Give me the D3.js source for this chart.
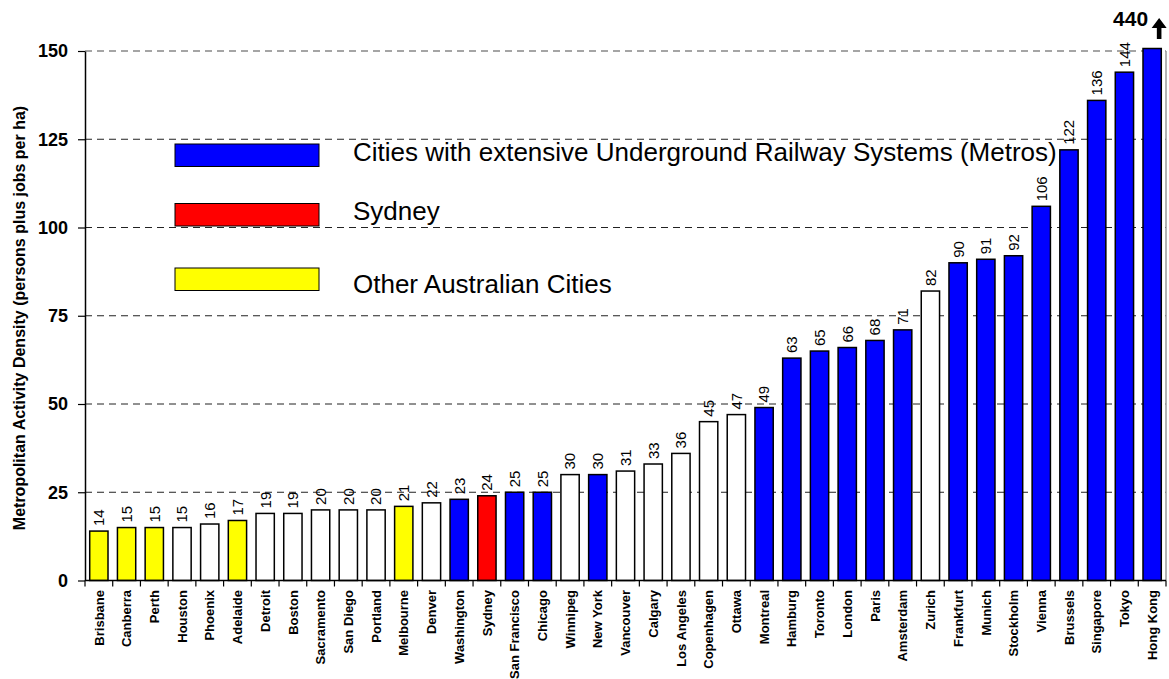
<!DOCTYPE html>
<html>
<head>
<meta charset="utf-8">
<script src="https://cdn.jsdelivr.net/npm/d3@7/dist/d3.min.js"></script>
<style>
  html, body { margin: 0; padding: 0; background: #fff; }
  svg { display: block; font-family: Arial, "Liberation Sans", sans-serif; }
</style>
</head>
<body>
<svg id="chart" width="1169" height="679"></svg>
<script>
// Metropolitan activity density by city (persons plus jobs per hectare)
const cities = ["Brisbane","Canberra","Perth","Houston","Phoenix","Adelaide","Detroit","Boston",
  "Sacramento","San Diego","Portland","Melbourne","Denver","Washington","Sydney","San Francisco",
  "Chicago","Winnipeg","New York","Vancouver","Calgary","Los Angeles","Copenhagen","Ottawa",
  "Montreal","Hamburg","Toronto","London","Paris","Amsterdam","Zurich","Frankfurt","Munich",
  "Stockholm","Vienna","Brussels","Singapore","Tokyo","Hong Kong"];
const density = [14,15,15,15,16,17,19,19,20,20,20,21,22,23,24,25,25,30,30,31,33,36,45,47,
  49,63,65,66,68,71,82,90,91,92,106,122,136,144,440];
// m = metro city, s = Sydney, a = other Australian city, o = other
const group = ["a","a","a","o","o","a","o","o","o","o","o","a","o","m","s","m",
  "m","o","m","o","o","o","o","o","m","m","m","m","m","m","o","m","m",
  "m","m","m","m","m","m"];
const yTicks = [0,25,50,75,100,125,150];
const legendKeys = ["m","s","a"];
const legendLabels = ["Cities with extensive Underground Railway Systems (Metros)","Sydney","Other Australian Cities"];
const groupColor = {m:"#0000ff", s:"#ff0000", a:"#ffff00", o:"#ffffff"};

const svg = d3.select("#chart");
const plotLeft = 85, plotRight = 1166, plotTop = 51, plotBottom = 580.5;

const x = d3.scaleBand().domain(cities).range([plotLeft, plotRight]).paddingInner(0.34).paddingOuter(0.17);
const y = d3.scaleLinear().domain([0, 150]).range([plotBottom, plotTop]).clamp(true);

// gridlines
svg.append("g").selectAll("line").data(yTicks.filter(t => t > 0)).join("line")
  .attr("x1", plotLeft).attr("x2", plotRight)
  .attr("y1", d => y(d)).attr("y2", d => y(d))
  .attr("stroke", d => d === 150 ? "#888" : "#222")
  .attr("stroke-width", d => d === 150 ? 1.5 : 1)
  .attr("stroke-dasharray", "7,5");

// right frame edge
svg.append("line").attr("x1", plotRight).attr("x2", plotRight).attr("y1", y(150)).attr("y2", plotBottom)
  .attr("stroke", "#999").attr("stroke-width", 1.5);

// legend
const legendY = [144, 203.5, 268];
const lg = svg.append("g");
legendKeys.forEach((k, i) => {
  lg.append("rect").attr("x", 175).attr("y", legendY[i]).attr("width", 144).attr("height", 22.5)
    .attr("fill", groupColor[k]).attr("stroke", "#000").attr("stroke-width", 1);
  lg.append("text").attr("x", 353).attr("y", [161, 220, 293][i])
    .attr("font-size", 26).attr("fill", "#000").text(legendLabels[i]);
});

// bars
svg.append("g").selectAll("rect").data(cities).join("rect")
  .attr("x", d => x(d))
  .attr("width", x.bandwidth())
  .attr("y", (d, i) => y(density[i]) - (density[i] > 150 ? 2.5 : 0))
  .attr("height", (d, i) => plotBottom - y(density[i]) + (density[i] > 150 ? 2.5 : 0))
  .attr("fill", (d, i) => groupColor[group[i]])
  .attr("stroke", "#000").attr("stroke-width", 1.5);

// value labels (the capped bar gets its own label above the frame)
svg.append("g").selectAll("text").data(cities.filter((d, i) => density[i] <= 150)).join("text")
  .attr("transform", d => {
    const i = cities.indexOf(d);
    return `translate(${x(d) + x.bandwidth() / 2},${y(density[i]) - 5}) rotate(-90)`;
  })
  .attr("dy", "0.36em")
  .attr("font-size", 15).attr("fill", "#000")
  .text(d => density[cities.indexOf(d)]);

const hk = cities.length - 1;
const hkX = x(cities[hk]) + x.bandwidth() / 2;
const arrowX = hkX + 7;
svg.append("text").attr("x", hkX - 4).attr("y", 26).attr("text-anchor", "end")
  .attr("font-size", 21).attr("font-weight", "bold").text(density[hk]);
svg.append("path")
  .attr("d", `M${arrowX - 7.5},28 L${arrowX},18 L${arrowX + 7.5},28 L${arrowX + 2.3},28 L${arrowX + 2.3},39 L${arrowX - 2.3},39 L${arrowX - 2.3},28 Z`)
  .attr("fill", "#000");

// x axis baseline and ticks at band boundaries
const xg = svg.append("g");
xg.append("line").attr("x1", plotLeft).attr("x2", plotRight).attr("y1", plotBottom).attr("y2", plotBottom)
  .attr("stroke", "#000").attr("stroke-width", 1.5);
xg.selectAll("line.tick").data(d3.range(cities.length + 1)).join("line").attr("class", "tick")
  .attr("x1", i => plotLeft + i * x.step()).attr("x2", i => plotLeft + i * x.step())
  .attr("y1", plotBottom).attr("y2", plotBottom + 6)
  .attr("stroke", "#000").attr("stroke-width", 1.2);
xg.selectAll("text").data(cities).join("text")
  .attr("transform", d => `translate(${x(d) + x.bandwidth() / 2},590) rotate(-90)`)
  .attr("dy", "0.36em").attr("text-anchor", "end")
  .attr("font-size", 13).attr("font-weight", "bold").attr("fill", "#000")
  .text(d => d);

// y axis
const yAxis = d3.axisLeft(y).tickValues(yTicks).tickSize(7).tickSizeOuter(0).tickPadding(10);
const yg = svg.append("g").attr("transform", `translate(${plotLeft},0)`).call(yAxis);
yg.select(".domain").attr("stroke", "#000").attr("stroke-width", 1.5);
yg.selectAll(".tick line").attr("stroke", "#000").attr("stroke-width", 1.2);
yg.selectAll(".tick text").attr("font-size", 18).attr("font-weight", "bold")
  .attr("font-family", "Arial, 'Liberation Sans', sans-serif").attr("fill", "#000");

// y axis title
svg.append("text")
  .attr("transform", `translate(19,318) rotate(-90)`)
  .attr("dy", "0.36em").attr("text-anchor", "middle")
  .attr("font-size", 16).attr("font-weight", "bold").attr("fill", "#000")
  .text("Metropolitan Activity Density (persons plus jobs per ha)");
</script>
</body>
</html>
